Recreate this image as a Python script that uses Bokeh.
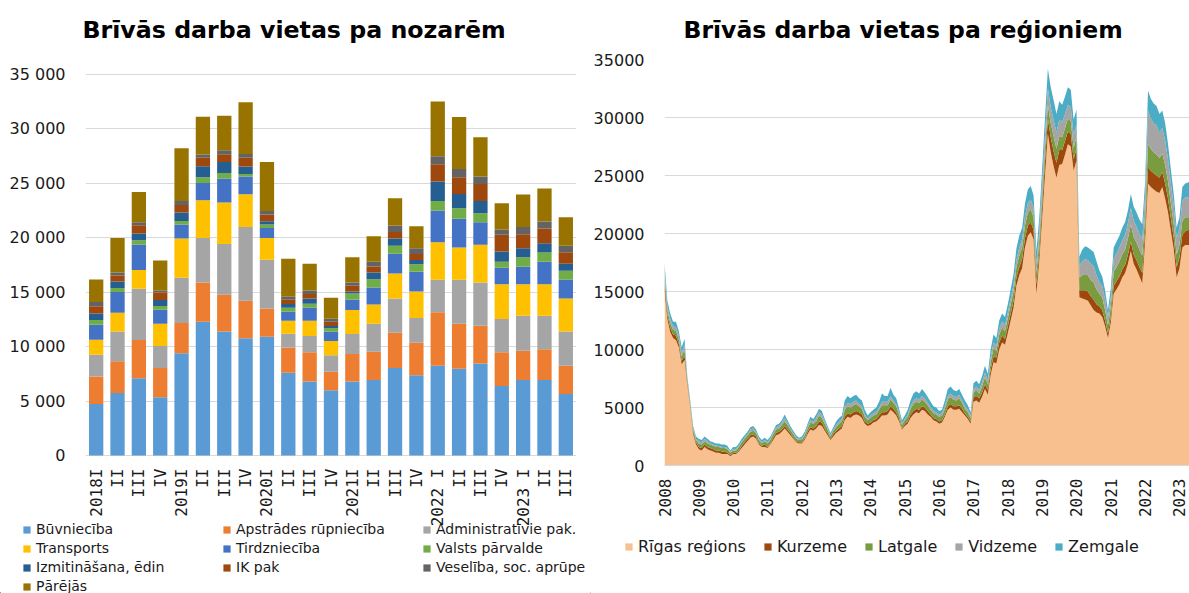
from math import pi
from bokeh.plotting import figure
from bokeh.models import ColumnDataSource, Legend, LegendItem, FixedTicker, Range1d
from bokeh.layouts import row, column
from bokeh.embed import file_html
from bokeh.resources import INLINE

# ---------------- left chart data: vacancies by sector, quarterly ----------------
quarters = ["2018I", "II", "III", "IV", "2019I", "II", "III", "IV", "2020I", "II", "III", "IV",
            "2021I", "II", "III", "IV", "2022 I", "II", "III", "IV", "2023 I", "II", "III"]
sectors = ["Būvniecība", "Apstrādes rūpniecība", "Administratīvie pak.", "Transports",
           "Tirdzniecība", "Valsts pārvalde", "Izmitināšana, ēdin", "IK pak",
           "Veselība, soc. aprūpe", "Pārējās"]
buvnieciba = [4740, 5750, 7090, 5350, 9390, 12290, 11400, 10760, 10910, 7610, 6790, 5990,
              6790, 6940, 8040, 7370, 8250, 7980, 8440, 6390, 6940, 6940, 5660]
apstrades = [2510, 2900, 3520, 2690, 2780, 3610, 3370, 3460, 2600, 2300, 2690, 1710,
             2530, 2600, 3240, 2990, 4900, 4130, 3480, 3090, 2690, 2810, 2590]
administrativie = [2010, 2750, 4710, 2020, 4160, 4090, 4670, 6780, 4470, 1280, 1500, 1500,
                   1840, 2570, 3150, 2270, 2990, 4030, 3980, 3050, 3210, 3090, 3150]
transports = [1380, 1720, 1710, 2050, 3600, 3460, 3790, 3000, 2010, 1190, 1400, 1320,
              2200, 1770, 2290, 2440, 3460, 2970, 3450, 3210, 2900, 2900, 3030]
tirdznieciba = [1370, 1890, 2350, 1280, 1290, 1590, 2210, 1620, 920, 830, 1220, 880,
                980, 1560, 1810, 1810, 2900, 2630, 2080, 1500, 1590, 2050, 1710]
valsts = [430, 370, 400, 340, 330, 520, 520, 240, 310, 360, 340, 310,
          550, 760, 730, 700, 890, 970, 830, 550, 890, 860, 830]
izmitinasana = [610, 610, 610, 550, 770, 1010, 1000, 680, 300, 340, 490, 180,
                180, 610, 670, 370, 1770, 1320, 1130, 950, 830, 850, 640]
ik_pak = [650, 550, 770, 700, 700, 790, 710, 820, 610, 400, 400, 400,
          520, 550, 610, 550, 1590, 1530, 1560, 1530, 1280, 1350, 1070]
veseliba = [390, 270, 270, 150, 370, 280, 360, 340, 340, 270, 330, 270,
            310, 430, 590, 550, 730, 760, 670, 490, 670, 640, 580]
parejas = [2080, 3180, 2780, 2790, 4830, 3480, 3180, 4740, 4490, 3490, 2450, 1930,
           2320, 2360, 2500, 2010, 5050, 4770, 3610, 2410, 2970, 3030, 2630]
sector_colors = ["#5B9BD5", "#ED7D31", "#A5A5A5", "#FFC000", "#4472C4",
                 "#70AD47", "#255E91", "#9E480E", "#636363", "#997300"]
y_ticks_left = [0, 5000, 10000, 15000, 20000, 25000, 30000, 35000]
y_labels_left = ["0", "5 000", "10 000", "15 000", "20 000", "25 000", "30 000", "35 000"]

# ---------------- right chart data: vacancies by region, monthly from Jan 2008 ----------------
years = ["2008", "2009", "2010", "2011", "2012", "2013", "2014", "2015",
         "2016", "2017", "2018", "2019", "2020", "2021", "2022", "2023"]
regions = ["Rīgas reģions", "Kurzeme", "Latgale", "Vidzeme", "Zemgale"]
riga = [15000, 12600, 11500, 11000, 10800, 10200, 8700, 9100, 6900, 5000, 2700, 1800,
        1400, 1300, 1600, 1400, 1300, 1200, 1100, 1100, 1000, 1000, 1000, 800,
        1000, 1000, 1200, 1500, 1800, 2100, 2400, 2500, 2300, 1800, 1600, 1600,
        1500, 1800, 2200, 2600, 2700, 2900, 3200, 2900, 2600, 2300, 2000, 1900,
        1900, 2200, 2700, 3100, 3000, 3200, 3500, 3400, 3000, 2600, 2200, 2500,
        2800, 3000, 3200, 3900, 4200, 4100, 4300, 4400, 4300, 4100, 3600, 3400,
        3500, 3700, 3800, 4000, 4300, 4300, 4400, 4800, 4600, 4300, 3800, 3100,
        3400, 3600, 4100, 4400, 4600, 4500, 4800, 4700, 4400, 4200, 3900, 3800,
        3600, 3700, 4200, 4800, 5000, 4800, 4800, 4900, 4600, 4300, 4000, 3600,
        5500, 5600, 5400, 5900, 6600, 6100, 7800, 8900, 8800, 10000, 10600, 10400,
        11400, 12500, 13600, 15500, 16400, 17000, 18800, 19800, 20100, 19500, 14800, 17600,
        21300, 25000, 28600, 27000, 25800, 24800, 25900, 26000, 26800, 27700, 27500, 25400,
        26300, 14500, 14400, 14300, 14200, 13800, 13400, 13200, 13100, 12800, 12000, 11000,
        12300, 14800, 15200, 15600, 16200, 16600, 17400, 18500, 17400, 16900, 16300, 15700,
        19300, 24300, 24000, 23800, 23600, 23500, 24000, 23000, 21800, 20200, 18600, 16200,
        17000, 18800, 19000, 19000, 19000, 19100]
kurzeme = [600, 400, 400, 300, 400, 300, 300, 400, 200, 100, 200, 200,
           200, 200, 200, 200, 200, 200, 200, 200, 200, 200, 100, 100,
           100, 100, 100, 200, 200, 200, 200, 200, 200, 100, 100, 200,
           100, 100, 200, 200, 200, 200, 200, 200, 200, 100, 100, 100,
           100, 100, 200, 200, 200, 200, 300, 300, 200, 200, 100, 200,
           200, 200, 200, 300, 300, 300, 300, 300, 300, 300, 200, 200,
           200, 200, 200, 300, 300, 300, 300, 300, 300, 300, 200, 100,
           200, 200, 300, 300, 300, 300, 300, 300, 300, 200, 200, 200,
           200, 200, 200, 300, 300, 300, 300, 300, 300, 200, 200, 200,
           400, 400, 400, 400, 400, 400, 500, 500, 500, 600, 600, 500,
           600, 600, 600, 700, 700, 800, 800, 900, 900, 800, 800, 800,
           1000, 1200, 1300, 1300, 1300, 1300, 1300, 1200, 1200, 1100, 1100, 1000,
           1000, 600, 700, 800, 800, 800, 900, 700, 600, 600, 500, 400,
           500, 700, 700, 700, 700, 700, 800, 800, 800, 800, 800, 900,
           1000, 1400, 1400, 1400, 1400, 1300, 1300, 1300, 1200, 1100, 1000, 900,
           900, 1100, 1200, 1300, 1300, 1300]
latgale = [700, 400, 400, 400, 400, 400, 400, 500, 200, 200, 200, 200,
           300, 300, 300, 300, 300, 300, 300, 300, 300, 300, 300, 200,
           200, 200, 300, 300, 300, 300, 300, 300, 300, 300, 200, 300,
           300, 300, 300, 300, 300, 400, 400, 400, 300, 300, 200, 200,
           200, 300, 300, 400, 400, 400, 500, 400, 400, 300, 200, 300,
           300, 400, 400, 600, 600, 600, 600, 600, 500, 500, 400, 300,
           400, 400, 400, 500, 600, 600, 500, 600, 500, 500, 400, 300,
           300, 400, 500, 600, 600, 600, 600, 500, 500, 400, 400, 400,
           400, 400, 500, 600, 600, 600, 500, 600, 500, 400, 400, 300,
           400, 500, 400, 500, 600, 500, 600, 700, 600, 700, 700, 700,
           700, 800, 800, 900, 1000, 1000, 1100, 1100, 1100, 1100, 1000, 1100,
           900, 1100, 1200, 1200, 1300, 1200, 1200, 1100, 1100, 1100, 1100, 1000,
           1000, 1100, 1300, 1400, 1400, 1400, 1500, 1300, 1100, 1100, 900, 700,
           900, 1200, 1200, 1300, 1300, 1300, 1400, 1500, 1500, 1500, 1500, 1500,
           1300, 2000, 1900, 1800, 1800, 1700, 1600, 1600, 1500, 1300, 1200, 1100,
           1100, 1200, 1200, 1100, 1100, 1100]
vidzeme = [500, 300, 300, 300, 300, 300, 300, 400, 100, 100, 100, 100,
           200, 200, 200, 200, 100, 100, 100, 100, 100, 100, 100, 100,
           100, 100, 100, 100, 100, 100, 200, 200, 100, 100, 100, 100,
           100, 100, 100, 200, 200, 200, 300, 200, 100, 100, 100, 100,
           100, 100, 200, 200, 200, 300, 300, 300, 200, 100, 100, 100,
           200, 200, 200, 300, 300, 300, 300, 300, 200, 200, 200, 100,
           200, 200, 200, 200, 300, 300, 300, 300, 200, 200, 200, 100,
           100, 200, 200, 300, 300, 300, 300, 300, 200, 200, 200, 200,
           200, 200, 200, 300, 300, 300, 300, 300, 200, 200, 200, 200,
           300, 300, 300, 400, 400, 400, 400, 500, 400, 500, 500, 500,
           500, 500, 600, 600, 700, 700, 800, 800, 800, 800, 700, 800,
           1100, 1200, 1400, 1400, 1400, 1400, 1400, 1300, 1200, 1200, 1200, 1100,
           1100, 1000, 1200, 1300, 1300, 1400, 1400, 1200, 1000, 1000, 900, 700,
           800, 1100, 1200, 1200, 1200, 1300, 1300, 1400, 1400, 1400, 1400, 1400,
           1700, 2900, 2600, 2500, 2500, 2200, 2200, 2100, 1900, 1700, 1600, 1400,
           1400, 1700, 1700, 1700, 1600, 1600]
zemgale = [700, 500, 500, 400, 500, 400, 500, 500, 200, 200, 200, 200,
           200, 200, 200, 200, 200, 200, 200, 200, 200, 200, 200, 100,
           200, 200, 200, 200, 200, 200, 200, 200, 200, 200, 200, 200,
           200, 200, 200, 200, 200, 200, 300, 200, 200, 200, 200, 100,
           200, 200, 200, 300, 200, 300, 300, 300, 200, 200, 200, 200,
           300, 300, 300, 500, 600, 500, 500, 500, 500, 500, 400, 300,
           300, 300, 400, 500, 700, 500, 500, 700, 500, 500, 300, 300,
           300, 400, 500, 600, 600, 500, 600, 500, 500, 500, 400, 400,
           300, 300, 500, 600, 600, 500, 500, 500, 500, 500, 400, 300,
           500, 500, 500, 500, 600, 500, 700, 700, 700, 700, 700, 700,
           700, 800, 900, 1000, 1000, 1000, 1100, 1200, 1200, 1100, 1200, 1100,
           1300, 1500, 1700, 1700, 1700, 1600, 1600, 1500, 1500, 1500, 1500, 1300,
           1300, 800, 1000, 1100, 1100, 1200, 1200, 1200, 1000, 800, 800, 600,
           800, 1000, 1000, 1000, 1100, 1100, 1100, 1200, 1200, 1200, 1200, 1300,
           1200, 1700, 1700, 1700, 1700, 1600, 1500, 1500, 1300, 1200, 1000, 900,
           1000, 1200, 1200, 1300, 1500, 1500]
region_colors = ["#F9C08F", "#9E480E", "#7A9C3F", "#A5A5A5", "#4BACC6"]
y_ticks_right = [0, 5000, 10000, 15000, 20000, 25000, 30000, 35000]

FONT = "DejaVu Sans"
MONO = "DejaVu Sans Mono"
TXT = "#1a1a1a"
GRID = "#d9d9d9"

TOP = 59         # frame top (frames of a row are aligned)
FRAME_H = 406
BOTTOM = 64
OVERLAP = 14     # legend strip is pulled up into the empty space under the tick labels
LEG_H = 593 - (TOP + FRAME_H + BOTTOM) + OVERLAP
W1, W2 = 590, 598


def base_style(p):
    p.outline_line_color = None
    p.background_fill_color = "white"
    p.border_fill_color = "white"
    p.xgrid.visible = False
    p.ygrid.grid_line_color = GRID
    p.ygrid.grid_line_width = 1
    p.yaxis.axis_line_color = None
    p.yaxis.major_tick_line_color = None
    p.yaxis.minor_tick_line_color = None
    p.yaxis.major_label_text_font = FONT
    p.yaxis.major_label_text_font_size = "16px"
    p.yaxis.major_label_text_color = TXT
    p.yaxis.major_label_standoff = 14
    p.xaxis.axis_line_color = GRID
    p.xaxis.major_tick_line_color = None
    p.xaxis.minor_tick_line_color = None
    p.xaxis.major_label_text_font = MONO
    p.xaxis.major_label_text_font_size = "16px"
    p.xaxis.major_label_text_color = TXT
    p.xaxis.major_label_orientation = pi / 2
    p.title.text_font = FONT
    p.title.text_font_style = "bold"
    p.title.text_color = "black"
    p.title.align = "left"
    p.title.vertical_align = "top"
    p.title.standoff = 28


def legend_figure(width):
    f = figure(width=width, height=LEG_H, x_range=Range1d(0, width), y_range=Range1d(0, LEG_H),
               min_border=0, output_backend="svg", toolbar_location=None)
    f.axis.visible = False
    f.grid.visible = False
    f.outline_line_color = None
    f.border_fill_alpha = 0
    f.background_fill_alpha = 0
    return f


# ---------------- left figure ----------------
x_idx = list(range(len(quarters)))
series = [buvnieciba, apstrades, administrativie, transports, tirdznieciba,
          valsts, izmitinasana, ik_pak, veseliba, parejas]
keys = [f"s{i}" for i in range(len(series))]
src1 = ColumnDataSource(dict(x=x_idx, **{k: v for k, v in zip(keys, series)}))

# frame spans 59..465 px; value axis 0..35000 must sit at 455..74 px
units_per_px = 35000 / 381.0
p1 = figure(frame_width=491, frame_height=FRAME_H,
            x_range=Range1d(-0.5, len(quarters) - 0.5),
            y_range=Range1d(-10 * units_per_px, 35000 + 15 * units_per_px),
            min_border_left=85, min_border_right=W1 - 85 - 491, min_border_top=TOP,
            min_border_bottom=BOTTOM,
            output_backend="svg", toolbar_location=None,
            title="Brīvās darba vietas pa nozarēm")
base_style(p1)
p1.title.text_font_size = "23.7px"
p1.title.offset = -3
p1.vbar_stack(keys, x="x", width=0.67, color=sector_colors, line_width=0, source=src1)
p1.xaxis.ticker = FixedTicker(ticks=x_idx)
p1.xaxis.major_label_overrides = {i: q for i, q in zip(x_idx, quarters)}
p1.xaxis.axis_line_color = None
p1.xaxis.major_label_standoff = -3
p1.yaxis.ticker = FixedTicker(ticks=y_ticks_left)
p1.yaxis.major_label_overrides = {t: l for t, l in zip(y_ticks_left, y_labels_left)}

# legend strip for the left chart: swatch renderers sit outside the visible range
l1 = legend_figure(W1)
sw1 = [l1.vbar(x=[-100], top=[1], width=1, color=c, line_width=0) for c in sector_colors]
leg1 = Legend(items=[LegendItem(label=s, renderers=[r]) for s, r in zip(sectors, sw1)],
              orientation="horizontal", ncols=3, location=(22, -1),
              glyph_width=9, glyph_height=9, label_standoff=5, spacing=3,
              label_height=13, label_width=183, padding=0, margin=0,
              label_text_font=FONT, label_text_font_size="14px", label_text_color=TXT,
              border_line_color=None, background_fill_alpha=0)
l1.add_layout(leg1)

# ---------------- right figure ----------------
months = list(range(len(riga)))
src2 = ColumnDataSource(dict(m=months, riga=riga, kurzeme=kurzeme, latgale=latgale,
                             vidzeme=vidzeme, zemgale=zemgale))
p2 = figure(frame_width=W2 - 68, frame_height=FRAME_H,
            x_range=Range1d(0, (W2 - 68) / 2.861), y_range=Range1d(0, 35000),
            min_border_left=68, min_border_right=0, min_border_top=TOP,
            min_border_bottom=BOTTOM,
            output_backend="svg", toolbar_location=None,
            title="Brīvās darba vietas pa reģioniem")
base_style(p2)
p2.title.text_font_size = "23.5px"
p2.title.offset = 19
p2.xaxis.major_label_standoff = 7
p2.varea_stack(["riga", "kurzeme", "latgale", "vidzeme", "zemgale"], x="m",
               color=region_colors, source=src2)
year_ticks = [12 * i for i in range(len(years))]
p2.xaxis.ticker = FixedTicker(ticks=year_ticks)
p2.xaxis.major_label_overrides = {t: y for t, y in zip(year_ticks, years)}
p2.yaxis.ticker = FixedTicker(ticks=y_ticks_right)
p2.yaxis.major_label_overrides = {t: str(t) for t in y_ticks_right}

l2 = legend_figure(W2)
sw2 = [l2.vbar(x=[-100], top=[1], width=1, color=c, line_width=0) for c in region_colors]
leg2 = Legend(items=[LegendItem(label=s, renderers=[r]) for s, r in zip(regions, sw2)],
              orientation="horizontal", location=(34, 37),
              glyph_width=9, glyph_height=9, label_standoff=5, spacing=17,
              label_height=13, padding=0, margin=0,
              label_text_font=FONT, label_text_font_size="16px", label_text_color=TXT,
              border_line_color=None, background_fill_alpha=0)
l2.add_layout(leg2)

legend_row = row(l1, l2, styles={"margin-top": f"-{OVERLAP}px"})
layout = column(row(p1, p2), legend_row)
open("out.html", "w").write(file_html(layout, INLINE))
